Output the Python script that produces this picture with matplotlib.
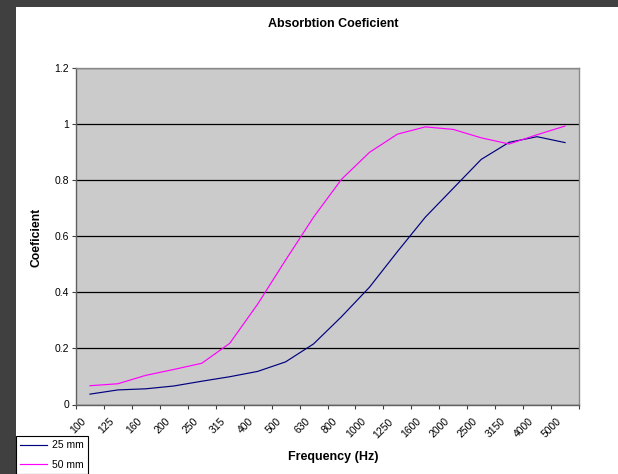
import matplotlib
matplotlib.use("Agg")
import matplotlib.pyplot as plt
from matplotlib.patches import Rectangle
from matplotlib.transforms import ScaledTranslation
import numpy as np

plt.rcParams['font.family'] = ['Liberation Sans', 'DejaVu Sans']

# data
freqs = ['100', '125', '160', '200', '250', '315', '400', '500', '630', '800',
         '1000', '1250', '1600', '2000', '2500', '3150', '4000', '5000']
mm25 = [0.037, 0.052, 0.056, 0.066, 0.083, 0.099, 0.118, 0.152, 0.216, 0.313,
        0.418, 0.545, 0.668, 0.771, 0.874, 0.935, 0.955, 0.934]
mm50 = [0.067, 0.074, 0.104, 0.125, 0.147, 0.218, 0.358, 0.515, 0.668, 0.803,
        0.899, 0.964, 0.990, 0.981, 0.951, 0.929, 0.962, 0.993]

fig = plt.figure(figsize=(6.18, 4.74), dpi=100)
fig.patch.set_facecolor('white')

# dark frame strips (left and top)
fig.patches.append(Rectangle((0, 0), 16/618, 1, transform=fig.transFigure,
                             facecolor='#404040', edgecolor='none', zorder=-1))
fig.patches.append(Rectangle((0, 1 - 7/474), 1, 7/474, transform=fig.transFigure,
                             facecolor='#404040', edgecolor='none', zorder=-1))

ax = fig.add_axes([76/618, 1 - 404.5/474, (579 - 76)/618, (404.5 - 68)/474])
ax.set_facecolor('#cbcbcb')

x = np.arange(len(freqs)) + 0.5
l1, = ax.plot(x, mm25, color='#000080', lw=0.85, label='25 mm')
l2, = ax.plot(x, mm50, color='#ff00ff', lw=0.85, label='50 mm')

ax.set_xlim(0, len(freqs))
ax.set_ylim(0, 1.2)
yt = np.arange(0, 1.21, 0.2)
ax.set_yticks(yt)
ax.set_yticklabels([f"{v:g}" for v in np.round(yt, 1)], fontsize=7.5)
ax.yaxis.grid(True, color='black', lw=0.9)
ax.set_axisbelow(True)

ax.set_xticks(np.arange(len(freqs) + 1))
ax.set_xticklabels(freqs + [''], fontsize=7.5, rotation=45, ha='right',
                   rotation_mode='anchor')
ax.tick_params(axis='both', length=3, width=0.8, color='#404040', pad=2)
shift = ScaledTranslation(0.05, -0.05, fig.dpi_scale_trans)
for lab in ax.get_xticklabels():
    lab.set_transform(lab.get_transform() + shift)

for s in ['left', 'bottom']:
    ax.spines[s].set_color('#606060')
    ax.spines[s].set_linewidth(1.0)
for s in ['top', 'right']:
    ax.spines[s].set_color('#8a8a8a')
    ax.spines[s].set_linewidth(1.0)

fig.text(333/618, 1 - 24/474, 'Absorbtion Coeficient', ha='center', va='center',
         fontsize=9, fontweight='bold')
fig.text(333/618, 1 - 457/474, 'Frequency (Hz)', ha='center', va='center',
         fontsize=9, fontweight='bold')
fig.text(36/618, 1 - 237/474, 'Coeficient', ha='center', va='center',
         rotation=90, fontsize=8.7, fontweight='bold')

leg = fig.legend(handles=[l1, l2], loc='upper left',
                 bbox_to_anchor=(16/618, 1 - 436/474), fontsize=7.5,
                 fancybox=False, edgecolor='black', framealpha=1,
                 borderpad=0.4, handlelength=2.6, handletextpad=0.5,
                 labelspacing=0.9, borderaxespad=0)
leg.get_frame().set_linewidth(0.8)

fig.savefig('out.png', dpi=100)
